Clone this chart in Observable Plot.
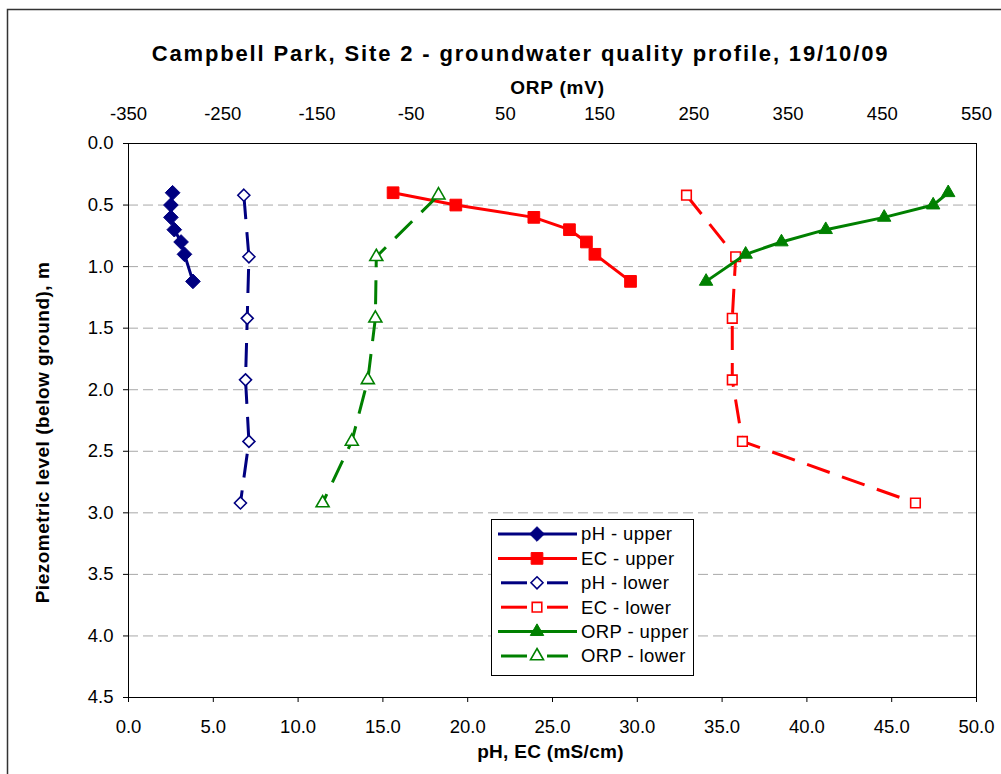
<!DOCTYPE html>
<html><head><meta charset="utf-8">
<script src="https://cdn.jsdelivr.net/npm/d3@7"></script>
<script src="https://cdn.jsdelivr.net/npm/@observablehq/plot@0.6"></script>
<style>
body{margin:0;background:#fff;}
#wrap{position:relative;width:1001px;height:774px;overflow:hidden;background:#fff;}
</style></head><body><div id="wrap"></div>
<script>
// ---- data (depth below ground in m) ----
const depthUpper = [0.4, 0.5, 0.6, 0.7, 0.8, 0.9, 1.12];
const depthLower = [0.42, 0.92, 1.42, 1.92, 2.42, 2.92];
const phUpper  = [2.6, 2.5, 2.5, 2.7, 3.1, 3.3, 3.8];
const ecUpper  = [15.6, 19.3, 23.9, 26.0, 27.0, 27.5, 29.6];
const orpUpper = [520, 504, 452, 390, 343, 305, 263];
const phLower  = [6.8, 7.1, 7.0, 6.9, 7.1, 6.6];
const ecLower  = [32.9, 35.8, 35.6, 35.6, 36.2, 46.4];
const orpLower = [-21, -87, -88, -96, -113, -144];

const bottomTicks = [0, 5, 10, 15, 20, 25, 30, 35, 40, 45, 50];
const orpTicks = [-350, -250, -150, -50, 50, 150, 250, 350, 450, 550];
const depthTicks = [0, 0.5, 1, 1.5, 2, 2.5, 3, 3.5, 4, 4.5];
const gridDepths = [0.5, 1, 1.5, 2, 2.5, 3, 3.5, 4];

const titleText = "Campbell Park, Site 2 - groundwater quality profile, 19/10/09";
const topAxisTitle = "ORP (mV)";
const bottomAxisTitle = "pH, EC (mS/cm)";
const leftAxisTitle = "Piezometric level (below ground), m";

// ORP (secondary, top) axis shares the same pixel span: -350..550 over 0..50
const orpToX = v => (v + 350) / 18;
const xToOrp = x => x * 18 - 350;

const NAVY = "#000080", RED = "#ff0000", GREEN = "#008000";
const DASH = "24,13";

const series = [
  {name: "pH - upper",  vals: phUpper,  depth: depthUpper, conv: v => v, color: NAVY,  symbol: "diamond2", r: 6.6, hollow: false, dash: null},
  {name: "EC - upper",  vals: ecUpper,  depth: depthUpper, conv: v => v, color: RED,   symbol: "square",   r: 6.6, hollow: false, dash: null},
  {name: "pH - lower",  vals: phLower,  depth: depthLower, conv: v => v, color: NAVY,  symbol: "diamond2", r: 5.4, hollow: true,  dash: DASH},
  {name: "EC - lower",  vals: ecLower,  depth: depthLower, conv: v => v, color: RED,   symbol: "square",   r: 5.4, hollow: true,  dash: DASH},
  {name: "ORP - upper", vals: orpUpper, depth: depthUpper, conv: orpToX, color: GREEN, symbol: "triangle2", r: 6.4, hollow: false, dash: null},
  {name: "ORP - lower", vals: orpLower, depth: depthLower, conv: orpToX, color: GREEN, symbol: "triangle2", r: 6.2, hollow: true,  dash: DASH}
];

const marks = [
  Plot.ruleY(gridDepths, {stroke: "#a8a8a8", strokeWidth: 1, strokeDasharray: "10,5"}),
  Plot.frame({stroke: "#000", strokeWidth: 1}),
  Plot.axisY({ticks: depthTicks, tickFormat: d => d.toFixed(1), tickSize: 5, tickPadding: 10, fontSize: 18.5, label: null}),
  Plot.axisX({anchor: "bottom", ticks: bottomTicks, tickFormat: d => d.toFixed(1), tickSize: 5, tickPadding: 17, fontSize: 18.5, label: null}),
  Plot.axisX({anchor: "top", ticks: orpTicks.map(orpToX), tickFormat: d => String(Math.round(xToOrp(d))), tickSize: 0, tickPadding: 24, fontSize: 18.5, label: null}),
  Plot.text([titleText], {frameAnchor: "top", textAnchor: "middle", dx: -32, dy: -98, fontSize: 22, fontWeight: "bold", fill: "#000"}),
  Plot.text([topAxisTitle], {frameAnchor: "top", textAnchor: "middle", dx: 5, dy: -63, fontSize: 19, fontWeight: "bold", fill: "#000"}),
  Plot.text([bottomAxisTitle], {frameAnchor: "bottom", textAnchor: "middle", dx: -2, dy: 60, fontSize: 19, fontWeight: "bold", fill: "#000"}),
  Plot.text([leftAxisTitle], {frameAnchor: "left", textAnchor: "middle", dx: -86, dy: 12, rotate: -90, fontSize: 19, fontWeight: "bold", fill: "#000"})
];

for (const s of series) {
  const rows = s.vals.map((v, i) => ({x: s.conv(v), y: s.depth[i]}));
  marks.push(Plot.line(rows, {x: "x", y: "y", stroke: s.color, strokeWidth: 3, strokeDasharray: s.dash, strokeLinecap: "butt"}));
  marks.push(Plot.dot(rows, {x: "x", y: "y", symbol: s.symbol, r: s.r,
    fill: s.hollow ? "#fff" : s.color, stroke: s.color, strokeWidth: s.hollow ? 1.6 : 1}));
}

const chart = Plot.plot({
  width: 1001,
  height: 774,
  marginTop: 143,
  marginBottom: 77,
  marginLeft: 128,
  marginRight: 25,
  style: {fontFamily: "'Liberation Sans', Arial, sans-serif", fontSize: "17px", background: "#fff", color: "#000"},
  x: {domain: [0, 50]},
  y: {domain: [0, 4.5], reverse: true},
  marks
});
document.getElementById("wrap").appendChild(chart);

const svg = d3.select(chart);
// letter spacing to mimic the original's wide text rendering
const spacing = {[titleText]: "1.85px", [topAxisTitle]: "0.8px", [bottomAxisTitle]: "0.3px", [leftAxisTitle]: "0.5px"};
svg.selectAll("text").each(function() {
  const t = this.textContent;
  if (spacing[t]) this.style.letterSpacing = spacing[t];
});

// chart-area border
svg.append("rect").attr("x", 7.5).attr("y", 9.5).attr("width", 1100).attr("height", 900)
  .attr("fill", "none").attr("stroke", "#333").attr("stroke-width", 1.5);

// legend
const lg = svg.append("g");
lg.append("rect").attr("x", 491.5).attr("y", 519.5).attr("width", 202).attr("height", 156)
  .attr("fill", "#fff").attr("stroke", "#000").attr("stroke-width", 1);
const symMap = {diamond2: d3.symbolDiamond2, square: d3.symbolSquare, triangle2: d3.symbolTriangle2};
series.forEach((s, i) => {
  const y = 534 + i * 24.4;
  if (s.dash) {
    lg.append("line").attr("x1", 501).attr("x2", 527).attr("y1", y).attr("y2", y)
      .attr("stroke", s.color).attr("stroke-width", 3);
    lg.append("line").attr("x1", 547).attr("x2", 568).attr("y1", y).attr("y2", y)
      .attr("stroke", s.color).attr("stroke-width", 3);
  } else {
    lg.append("line").attr("x1", 498).attr("x2", 577).attr("y1", y).attr("y2", y)
      .attr("stroke", s.color).attr("stroke-width", 3);
  }
  lg.append("path").attr("d", d3.symbol(symMap[s.symbol], Math.PI * s.r * s.r)())
    .attr("transform", `translate(537,${y})`)
    .attr("fill", s.hollow ? "#fff" : s.color).attr("stroke", s.color)
    .attr("stroke-width", s.hollow ? 1.6 : 1);
  lg.append("text").attr("x", 581).attr("y", y).attr("dy", "0.35em")
    .attr("text-anchor", "start").attr("font-size", 18.5).style("letter-spacing", "0.4px")
    .attr("fill", "#000").text(s.name);
});
</script>
</body></html>
